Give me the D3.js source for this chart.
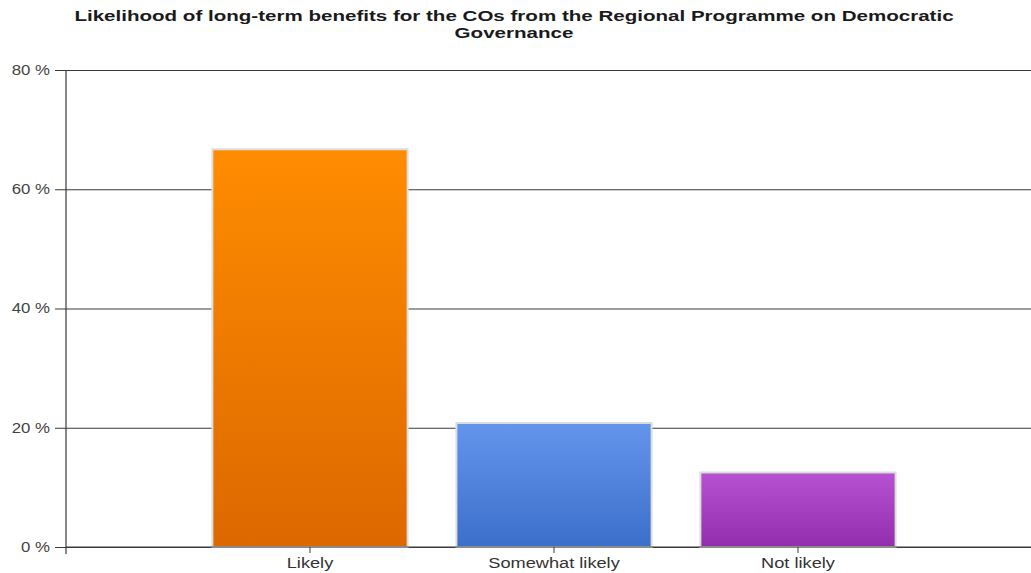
<!DOCTYPE html>
<html>
<head>
<meta charset="utf-8">
<script src="https://cdn.jsdelivr.net/npm/d3@7"></script>
<style>
  html, body { margin: 0; padding: 0; background: #fff; }
  svg { display: block; font-family: "Liberation Sans", Arial, sans-serif; }
</style>
</head>
<body>
<svg id="chart" width="1031" height="573"></svg>
<script>
// Survey answers and their shares (percent)
const categories = ["Likely", "Somewhat likely", "Not likely"];
const shares = [66.7, 20.8, 12.5];
const yTicks = [0, 20, 40, 60, 80];
const titleLines = [
  "Likelihood of long-term benefits for the COs from the Regional Programme on Democratic",
  "Governance"
];
const barTop = ["#ff8c00", "#6495ed", "#b752d2"];
const barBottom = ["#dc6800", "#3c6fca", "#922eae"];

const W = 1031, H = 573;
const margin = { left: 66, top: 70, bottom: 26 };
const plotRight = 1042;          // plot runs slightly past the page edge
const baseY = H - margin.bottom; // 547

const svg = d3.select("#chart");

// widen a text node horizontally while keeping it anchored
function widen(sel, factor) {
  sel.each(function () {
    const len = this.getComputedTextLength();
    d3.select(this)
      .attr("textLength", len * factor)
      .attr("lengthAdjust", "spacingAndGlyphs");
  });
}

const x = d3.scaleBand()
  .domain(categories)
  .range([margin.left, plotRight])
  .paddingInner(0.2)
  .paddingOuter(0.6);

const y = d3.scaleLinear()
  .domain([0, 80])
  .range([baseY, margin.top]);

// gradients
const defs = svg.append("defs");
categories.forEach((c, i) => {
  const g = defs.append("linearGradient")
    .attr("id", "grad" + i)
    .attr("x1", 0).attr("y1", 0).attr("x2", 0).attr("y2", 1);
  g.append("stop").attr("offset", "0%").attr("stop-color", barTop[i]);
  g.append("stop").attr("offset", "100%").attr("stop-color", barBottom[i]);
});

// horizontal grid lines with left ticks
const yAxis = d3.axisLeft(y)
  .tickValues(yTicks)
  .tickSize(-(plotRight - margin.left))
  .tickPadding(16)
  .tickFormat(d => d + " %");

const gy = svg.append("g")
  .attr("transform", `translate(${margin.left},0)`)
  .call(yAxis);
gy.select(".domain").remove();
gy.selectAll(".tick line")
  .attr("x1", -11)
  .attr("stroke", "#3a3a3a")
  .attr("stroke-width", 1);
gy.selectAll(".tick text")
  .attr("fill", "#444")
  .attr("font-size", 14)
  .attr("font-family", "Liberation Sans, Arial, sans-serif")
  .call(widen, 1.2);

// bars
svg.append("g")
  .selectAll("rect")
  .data(categories)
  .join("rect")
  .attr("x", d => x(d))
  .attr("width", x.bandwidth())
  .attr("y", (d, i) => y(shares[i]))
  .attr("height", (d, i) => baseY - y(shares[i]))
  .attr("fill", (d, i) => `url(#grad${i})`)
  .attr("stroke", "#dcdcdc")
  .attr("stroke-width", 2);

// vertical axis line
svg.append("line")
  .attr("x1", margin.left).attr("x2", margin.left)
  .attr("y1", margin.top).attr("y2", baseY + 7)
  .attr("stroke", "#3a3a3a").attr("stroke-width", 1.2);

// baseline and category axis
const xAxis = d3.axisBottom(x).tickSize(6).tickPadding(5);
const gx = svg.append("g")
  .attr("transform", `translate(0,${baseY})`)
  .call(xAxis);
gx.select(".domain").remove();
gx.selectAll(".tick line").attr("stroke", "#3a3a3a");
gx.selectAll(".tick text")
  .attr("fill", "#333")
  .attr("font-size", 14)
  .attr("font-family", "Liberation Sans, Arial, sans-serif")
  .call(widen, 1.3);
svg.append("line")
  .attr("x1", margin.left).attr("x2", plotRight)
  .attr("y1", baseY).attr("y2", baseY)
  .attr("stroke", "#3a3a3a").attr("stroke-width", 1.2);

// title
svg.append("g")
  .selectAll("text")
  .data(titleLines)
  .join("text")
  .attr("x", 514)
  .attr("y", (d, i) => 21 + i * 17)
  .attr("text-anchor", "middle")
  .attr("font-size", 15)
  .attr("font-weight", "bold")
  .attr("fill", "#1a1a1a")
  .text(d => d)
  .call(widen, 1.37);
</script>
</body>
</html>
